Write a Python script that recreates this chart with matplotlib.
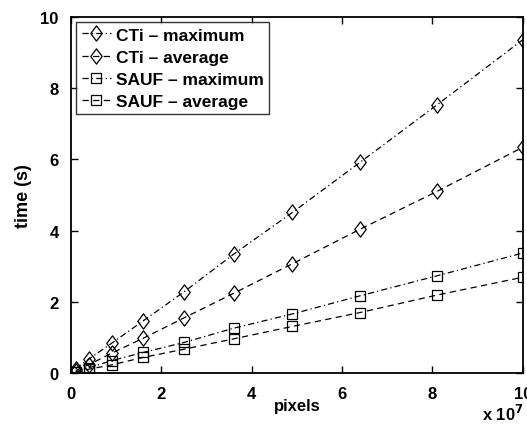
import matplotlib
matplotlib.use("Agg")
import matplotlib.pyplot as plt
from matplotlib.path import Path

# pixel counts in units of 1e7
pixels = [0.1, 0.4, 0.9, 1.6, 2.5, 3.6, 4.9, 6.4, 8.1, 10.0]

cti_max = [0.12, 0.40, 0.84, 1.47, 2.28, 3.34, 4.51, 5.92, 7.53, 9.36]
cti_avg = [0.07, 0.24, 0.56, 0.98, 1.55, 2.24, 3.07, 4.04, 5.10, 6.34]
sauf_max = [0.04, 0.15, 0.35, 0.58, 0.86, 1.26, 1.66, 2.17, 2.73, 3.37]
sauf_avg = [0.03, 0.11, 0.23, 0.44, 0.67, 0.96, 1.31, 1.70, 2.19, 2.69]

plt.rcParams['font.family'] = ['Liberation Sans', 'DejaVu Sans']
plt.rcParams['font.weight'] = 'bold'

# matlab-like diamond, a bit taller than wide
diamond = Path([(0, 1), (0.75, 0), (0, -1), (-0.75, 0), (0, 1)],
               [Path.MOVETO, Path.LINETO, Path.LINETO, Path.LINETO, Path.CLOSEPOLY])

fig = plt.figure(figsize=(5.27, 4.27), dpi=100)
ax = fig.add_axes([0.135, 0.124, 0.857, 0.834])

style = dict(color='black', lw=0.9, mfc='none', mec='black', mew=0.9)
dash = (5, 3.5)
dashdot = (5, 2.5, 1, 2.5)
ax.plot(pixels, cti_max, marker=diamond, ms=11, dashes=dashdot, label='CTi – maximum', **style)
ax.plot(pixels, cti_avg, marker=diamond, ms=11, dashes=dash, label='CTi – average', **style)
ax.plot(pixels, sauf_max, marker='s', ms=6.5, dashes=dashdot, label='SAUF – maximum', **style)
ax.plot(pixels, sauf_avg, marker='s', ms=6.5, dashes=dash, label='SAUF – average', **style)

ax.set_xlim(0, 10)
ax.set_ylim(0, 10)
ax.set_xticks([0, 2, 4, 6, 8, 10])
ax.set_yticks([0, 2, 4, 6, 8, 10])
ax.tick_params(direction='in', top=True, right=True, labelsize=12, width=1.0, length=5)
ax.tick_params(axis='y', pad=9)
ax.tick_params(axis='x', pad=9)
for lab in ax.get_xticklabels() + ax.get_yticklabels():
    lab.set_fontweight('bold')
for sp in ax.spines.values():
    sp.set_linewidth(1.3)

ax.set_xlabel('pixels', fontsize=12, fontweight='bold', labelpad=-2)
ax.set_ylabel('time (s)', fontsize=13, fontweight='bold', labelpad=6)
fig.text(0.915, 0.015, r'x 10$^{\mathbf{7}}$', fontsize=12, fontweight='bold')

leg = ax.legend(loc='upper left', frameon=True, fancybox=False,
                handlelength=1.7, handletextpad=0.3, borderaxespad=0.3,
                borderpad=0.3, labelspacing=0.4, prop={'weight': 'bold', 'size': 12.5})
leg.get_frame().set_edgecolor('black')
leg.get_frame().set_linewidth(1.0)

fig.savefig('out.png', dpi=100)
